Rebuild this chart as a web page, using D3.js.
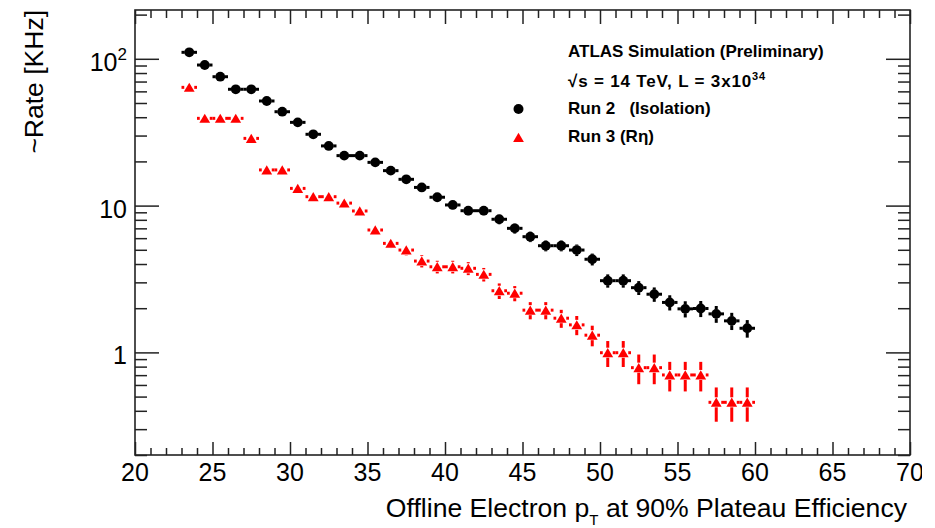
<!DOCTYPE html>
<html>
<head>
<meta charset="utf-8">
<script src="https://cdn.jsdelivr.net/npm/d3@7"></script>
<style>
  body { margin: 0; background: #fff; }
  text { font-family: "Liberation Sans", Arial, Helvetica, sans-serif; fill: #000; }
</style>
</head>
<body>
<svg id="chart" width="935" height="528"></svg>
<script>
// bin centres (GeV), one bin per GeV
var ptBins = [23.5, 24.5, 25.5, 26.5, 27.5, 28.5, 29.5, 30.5, 31.5, 32.5,
  33.5, 34.5, 35.5, 36.5, 37.5, 38.5, 39.5, 40.5, 41.5, 42.5,
  43.5, 44.5, 45.5, 46.5, 47.5, 48.5, 49.5, 50.5, 51.5, 52.5,
  53.5, 54.5, 55.5, 56.5, 57.5, 58.5, 59.5];

// Run 2 (Isolation), rate in kHz
var run2Rate = [110.7, 90.7, 75.5, 62.0, 62.0, 51.6, 43.6, 36.9, 30.6, 25.5,
  21.9, 21.9, 19.7, 17.3, 15.1, 13.3, 11.4, 10.1, 9.23, 9.23,
  8.07, 7.0, 6.14, 5.33, 5.33, 4.98, 4.31, 3.08, 3.08, 2.76,
  2.49, 2.19, 1.98, 1.99, 1.83, 1.64, 1.46];
var run2Err = [3.5, 3.0, 2.7, 2.4, 2.4, 2.1, 1.9, 1.7, 1.5, 1.3,
  1.2, 1.2, 1.1, 1.0, 0.9, 0.8, 0.75, 0.7, 0.65, 0.65,
  0.6, 0.55, 0.5, 0.45, 0.45, 0.45, 0.4, 0.32, 0.32, 0.3,
  0.28, 0.26, 0.25, 0.25, 0.24, 0.22, 0.2];

// Run 3 (R eta)
var run3Rate = [63.9, 39.3, 39.3, 39.3, 28.7, 17.5, 17.5, 13.1, 11.5, 11.5,
  10.4, 9.19, 6.82, 5.53, 4.98, 4.19, 3.83, 3.83, 3.74, 3.40,
  2.63, 2.53, 1.94, 1.94, 1.71, 1.54, 1.31, 0.995, 0.995, 0.787,
  0.787, 0.702, 0.702, 0.702, 0.457, 0.457, 0.457];
var run3Err = [1.8, 1.3, 1.3, 1.3, 1.0, 0.75, 0.75, 0.6, 0.55, 0.55,
  0.5, 0.5, 0.45, 0.42, 0.4, 0.4, 0.38, 0.38, 0.38, 0.36,
  0.32, 0.3, 0.26, 0.26, 0.24, 0.23, 0.21, 0.2, 0.2, 0.18,
  0.18, 0.16, 0.16, 0.16, 0.12, 0.12, 0.12];

var xMajor = [20, 25, 30, 35, 40, 45, 50, 55, 60, 65, 70];
var yMajor = [1, 10, 100];
var yMinor = [0.2, 0.3, 0.4, 0.5, 0.6, 0.7, 0.8, 0.9,
  2, 3, 4, 5, 6, 7, 8, 9, 20, 30, 40, 50, 60, 70, 80, 90, 200];

var legendLines = ["ATLAS Simulation (Preliminary)", "√s = 14 TeV, L = 3x10", "Run 2   (Isolation)", "Run 3 (Rη)"];

var L = 135, R = 910, T = 10, B = 455;
var svg = d3.select("#chart");

var x = d3.scaleLinear().domain([20, 70]).range([L, R]);
var y = d3.scaleLog().domain([0.2, 215]).range([B, T]);

var frameColor = "#222";

// ticks
var xMinor = d3.range(20, 71).filter(function (v) { return v % 5 != 0; });

function drawTicks(ax, vals, size) {
  var g = svg.append("g").call(ax.tickValues(vals).tickSize(size).tickFormat(""));
  g.select(".domain").remove();
  g.selectAll("line").attr("stroke", frameColor).attr("stroke-width", 1.5);
  return g;
}
drawTicks(d3.axisBottom(x), xMajor, -13).attr("transform", "translate(0," + B + ")");
drawTicks(d3.axisBottom(x), xMinor, -7).attr("transform", "translate(0," + B + ")");
drawTicks(d3.axisTop(x), xMajor, -14).attr("transform", "translate(0," + T + ")");
drawTicks(d3.axisTop(x), xMinor, -8).attr("transform", "translate(0," + T + ")");
drawTicks(d3.axisLeft(y), yMajor, -24).attr("transform", "translate(" + L + ",0)");
drawTicks(d3.axisLeft(y), yMinor, -12).attr("transform", "translate(" + L + ",0)");
drawTicks(d3.axisRight(y), yMajor, -24).attr("transform", "translate(" + R + ",0)");
drawTicks(d3.axisRight(y), yMinor, -12).attr("transform", "translate(" + R + ",0)");

// frame
svg.append("rect")
  .attr("x", L).attr("y", T).attr("width", R - L).attr("height", B - T)
  .attr("fill", "none").attr("stroke", frameColor).attr("stroke-width", 1.6);

// x tick labels (right edge of the picture is cropped)
svg.append("clipPath").attr("id", "cut")
  .append("rect").attr("x", 0).attr("y", 0).attr("width", 922).attr("height", 528);
svg.append("g").attr("clip-path", "url(#cut)")
  .selectAll("text").data(xMajor).enter().append("text")
  .attr("x", function (d) { return x(d); })
  .attr("y", 481)
  .attr("text-anchor", "middle")
  .attr("font-size", 25)
  .text(function (d) { return d; });

// y tick labels
yMajor.forEach(function (v) {
  var t = svg.append("text")
    .attr("x", 127).attr("y", y(v) + 12)
    .attr("text-anchor", "end")
    .attr("font-size", 25);
  if (v == 100) {
    t.append("tspan").text("10");
    t.append("tspan").attr("font-size", 17).attr("dy", -11).text("2");
  } else {
    t.text(v);
  }
});

// axis titles
var xt = svg.append("text")
  .attr("x", 907).attr("y", 517)
  .attr("text-anchor", "end")
  .attr("font-size", 26.6);
xt.append("tspan").text("Offline Electron p");
xt.append("tspan").attr("font-size", 15).attr("dy", 8).text("T");
xt.append("tspan").attr("dy", -8).text(" at 90% Plateau Efficiency");

svg.append("text")
  .attr("transform", "translate(43,10) rotate(-90)")
  .attr("text-anchor", "end")
  .attr("font-size", 26.5)
  .text("~Rate [KHz]");

// error bars, with a gap where the marker sits
function errorBars(rates, errs, color, gap) {
  var g = svg.append("g").attr("stroke", color).attr("stroke-width", 3);
  ptBins.forEach(function (c, i) {
    var cx = x(c), cy = y(rates[i]);
    g.append("line").attr("x1", x(c - 0.5)).attr("x2", cx - gap).attr("y1", cy).attr("y2", cy);
    g.append("line").attr("x1", cx + gap).attr("x2", x(c + 0.5)).attr("y1", cy).attr("y2", cy);
    var up = y(rates[i] + errs[i]), dn = y(rates[i] - errs[i]);
    if (up < cy - gap) g.append("line").attr("x1", cx).attr("x2", cx).attr("y1", cy - gap).attr("y2", up);
    if (dn > cy + gap) g.append("line").attr("x1", cx).attr("x2", cx).attr("y1", cy + gap).attr("y2", dn);
  });
}

function triangle(cx, cy) {
  return "M" + (cx - 5.4) + "," + (cy + 4.5) + "L" + (cx + 5.4) + "," + (cy + 4.5) + "L" + cx + "," + (cy - 4.7) + "Z";
}

errorBars(run3Rate, run3Err, "#ff0000", 5);
svg.append("g").selectAll("path").data(run3Rate).enter().append("path")
  .attr("d", function (d, i) { return triangle(x(ptBins[i]), y(d)); })
  .attr("fill", "#ff0000");

errorBars(run2Rate, run2Err, "#000", 4.5);
svg.append("g").selectAll("circle").data(run2Rate).enter().append("circle")
  .attr("cx", function (d, i) { return x(ptBins[i]); })
  .attr("cy", function (d) { return y(d); })
  .attr("r", 4.9)
  .attr("fill", "#000");

// legend
var lg = svg.append("g").attr("font-size", 17).attr("font-weight", "bold");
var lineY = [57.3, 86.7, 114.3, 141.7];
legendLines.forEach(function (s, i) {
  var t = lg.append("text").attr("x", 568).attr("y", lineY[i]).style("white-space", "pre").text(s);
  if (i == 1) {
    t.append("tspan").attr("font-size", 11).attr("dy", -7).text("34");
    t.attr("textLength", 197).attr("lengthAdjust", "spacing");
  }
});
lg.append("circle").attr("cx", 518.5).attr("cy", 109).attr("r", 5).attr("fill", "#000");
lg.append("path").attr("d", triangle(518.5, 137.5)).attr("fill", "#ff0000");
</script>
</body>
</html>
